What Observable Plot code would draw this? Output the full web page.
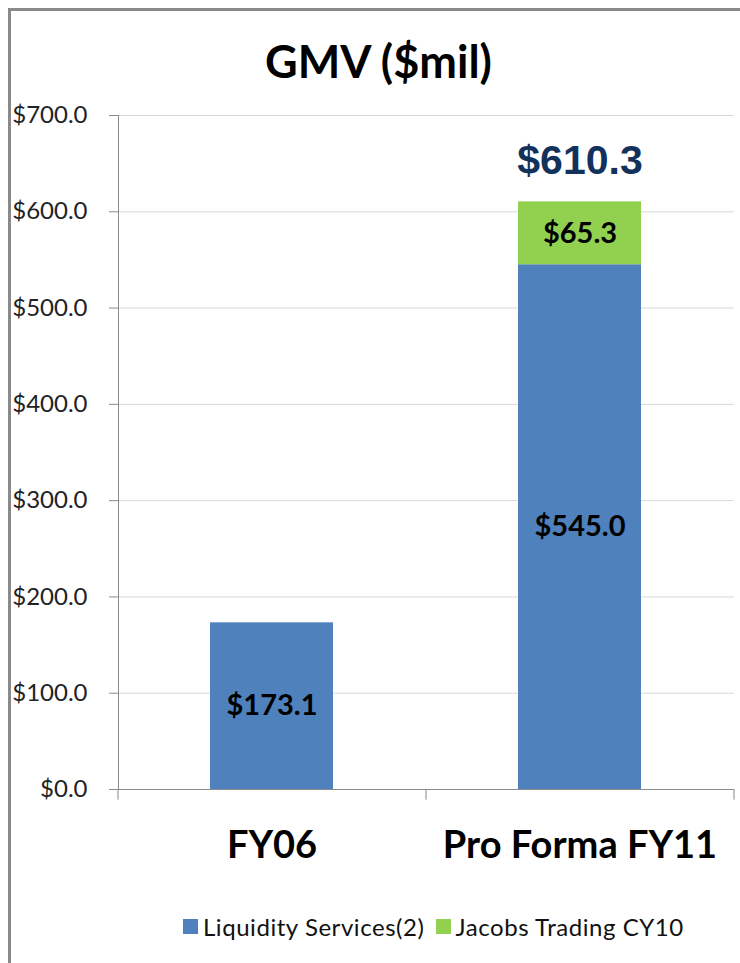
<!DOCTYPE html>
<html>
<head>
<meta charset="utf-8">
<script src="https://cdn.jsdelivr.net/npm/d3@7"></script>
<script src="https://cdn.jsdelivr.net/npm/@observablehq/plot@0.6"></script>
<style>
  html, body { margin: 0; padding: 0; background: #fff; }
  #wrap { position: relative; width: 740px; height: 963px; overflow: hidden; font-family: Lato, "Open Sans", sans-serif; }
  #chart { position: absolute; left: 0; top: 0; }
  #border { position: absolute; left: 8px; top: 8px; width: 760px; height: 980px; border-left: 3px solid #8a8a8a; border-top: 3px solid #8a8a8a; pointer-events: none; box-sizing: border-box; }
  #legend { position: absolute; left: 183px; top: 912px; height: 28px; display: flex; align-items: center; font-size: 24px; color: #111; white-space: nowrap; }
  #legend .sw { width: 15px; height: 15px; margin-right: 5px; }
  #legend .item { display: flex; align-items: center; margin-right: 11px; }
  #legend span { letter-spacing: 0.55px; }
</style>
</head>
<body>
<div id="wrap">
  <div id="chart"></div>
  <div id="legend"></div>
  <div id="border"></div>
</div>
<script>
const titleText = "GMV ($mil)";
const categories = ["FY06", "Pro Forma FY11"];
const seriesNames = ["Liquidity Services(2)", "Jacobs Trading CY10"];
const seriesColors = ["#4F81BD", "#92D050"];
const liquidityValues = [173.1, 545.0];
const jacobsValues = [null, 65.3];
const totalValues = [null, 610.3];
const yTicks = [0, 100, 200, 300, 400, 500, 600, 700];

const fmt = d => "$" + d.toFixed(1);

const rows = [];
categories.forEach((c, i) => {
  if (liquidityValues[i] != null) rows.push({category: c, series: seriesNames[0], value: liquidityValues[i]});
  if (jacobsValues[i] != null) rows.push({category: c, series: seriesNames[1], value: jacobsValues[i]});
});
const totals = categories.map((c, i) => ({category: c, total: totalValues[i]})).filter(d => d.total != null);

const chart = Plot.plot({
  width: 740,
  height: 895,
  marginLeft: 118,
  marginRight: 6,
  marginTop: 115,
  marginBottom: 106,
  style: {fontFamily: "Lato, 'Open Sans', sans-serif", background: "transparent"},
  x: {domain: categories, paddingInner: 0.6, paddingOuter: 0.3, label: null},
  y: {domain: [0, 700], label: null},
  color: {domain: seriesNames, range: seriesColors},
  marks: [
    Plot.ruleY(yTicks.filter(d => d > 0), {stroke: "#d9d9d9", strokeWidth: 1}),
    Plot.barY(rows, {x: "category", y: "value", fill: "series"}),
    Plot.text(rows, Plot.stackY({x: "category", y: "value", text: d => fmt(d.value), fontSize: 29, fontWeight: "bold", fill: "#000"})),
    Plot.text(totals, {x: "category", y: "total", text: d => fmt(d.total), dy: -41, fontSize: 41, fontWeight: "bold", fontFamily: "'Liberation Sans', Arial, sans-serif", fill: "#13325b"}),
    Plot.text([titleText], {frameAnchor: "top", lineAnchor: "middle", dx: -48, dy: -52, fontSize: 45, fontWeight: "bold", fill: "#000"}),
    Plot.ruleY([0], {stroke: "#8a8a8a"}),
    Plot.frame({anchor: "left", stroke: "#8a8a8a"}),
    Plot.ruleX(categories, {x: d => d, dx: -154, y1: 0, y2: -11, stroke: "#8a8a8a"}),
    Plot.ruleX([categories[categories.length - 1]], {x: d => d, dx: 154, y1: 0, y2: -11, stroke: "#8a8a8a"}),
    Plot.axisY(yTicks, {tickSize: 9, tickPadding: 22, tickFormat: fmt, fontSize: 24, stroke: "#8a8a8a", fill: "#222", label: null}),
    Plot.axisX({tickSize: 0, tickPadding: 56, lineAnchor: "middle", fontSize: 38, fontWeight: "bold", fill: "#000", label: null})
  ]
});
document.getElementById("chart").appendChild(chart);

const legend = document.getElementById("legend");
seriesNames.forEach((s, i) => {
  const item = document.createElement("div");
  item.className = "item";
  const sw = document.createElement("div");
  sw.className = "sw";
  sw.style.background = seriesColors[i];
  const t = document.createElement("span");
  t.textContent = s;
  item.appendChild(sw);
  item.appendChild(t);
  legend.appendChild(item);
});
</script>
</body>
</html>
